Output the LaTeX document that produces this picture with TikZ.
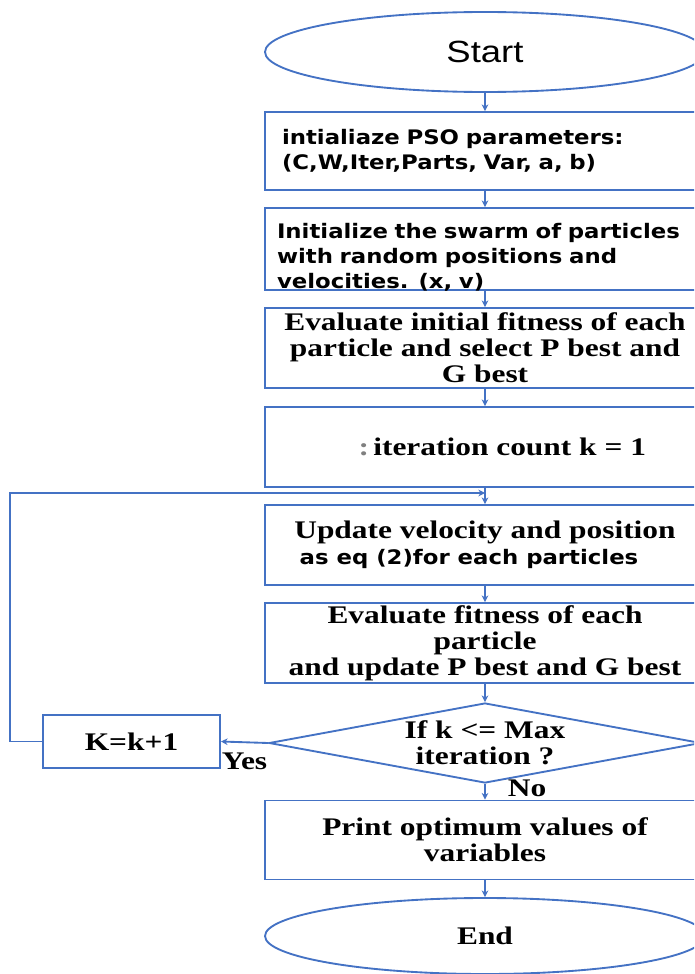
\documentclass[tikz,border=0pt]{standalone}
\usepackage{fontspec}
\setmainfont{Liberation Serif}[FakeStretch=1.24]
\newfontfamily\verdfont{DejaVu Sans}[FakeStretch=1.14]
\newfontfamily\arialfont{Liberation Sans}[FakeStretch=1.19]
\usetikzlibrary{shapes.geometric,arrows.meta}
\definecolor{flowblue}{HTML}{4472C4}
\tikzset{
  flowbox/.style={draw=flowblue, line width=1.4pt, rectangle, minimum width=330pt,
    minimum height=60pt, inner sep=0pt, align=center,
    font=\bfseries\fontsize{19}{19.5}\selectfont},
  sanstext/.style={font=\verdfont\bfseries\fontsize{15}{18.75}\selectfont, align=left, inner sep=0pt},
  terminal/.style={draw=flowblue, line width=1.4pt, ellipse, minimum width=330pt,
    minimum height=60pt, inner sep=0pt},
  decision/.style={draw=flowblue, line width=1.4pt, diamond, aspect=5.4, minimum width=324pt,
    minimum height=60pt, inner sep=0pt, align=center,
    font=\bfseries\fontsize{19}{19.5}\selectfont},
  flowline/.style={draw=flowblue, line width=1.4pt},
  flowarrow/.style={flowline, -{Stealth[length=5pt,width=5pt]}},
  branchlabel/.style={font=\bfseries\fontsize{19}{19.5}\selectfont, inner sep=0pt}
}
\begin{document}
\begin{tikzpicture}[x=0.75pt, y=-0.75pt]
  \useasboundingbox (0,0) rectangle (694,974);
  \clip (0,0) rectangle (694,974);
  \node[terminal, font=\arialfont\fontsize{23}{26}\selectfont] (start) at (485,52) {Start};
  \node[flowbox, sanstext, text width=304.5pt, minimum height=58.5pt] (init) at (485,151)
    {intialiaze PSO parameters:\\(C,W,Iter,Parts, Var, a, b)};
  \node[flowbox, minimum height=61.5pt] (swarm) at (485,249) {};
  \node[sanstext, text width=312pt] (swarmtext) at ([yshift=-6pt]swarm.center)
    {Initialize the swarm of particles\\with random positions and\\velocities. (x, v)};
  \node[flowbox] (evalinit) at (485,348)
    {Evaluate initial fitness of each\\particle and select P best and\\G best};
  \node[flowbox] (count) at (485,447)
    {\hspace*{26pt}\textcolor{gray}{:}\,iteration count k = 1};
  \node[flowbox, align=left] (update) at (485,545)
    {Update velocity and position\\\hspace*{4pt}{\verdfont\bfseries\fontsize{15}{18.75}\selectfont as eq (2)for each particles}};
  \node[flowbox] (evalfit) at (485,643)
    {Evaluate fitness of each\\particle\\and update P best and G best};
  \node[decision] (check) at (485,743) {If k <= Max\\iteration ?};
  \node[flowbox, minimum width=132.75pt, minimum height=39.75pt] (incr) at (131.5,741.5) {K=k+1};
  \node[flowbox, minimum height=59.25pt] (print) at (485,840)
    {Print optimum values of\\variables};
  \node[terminal, minimum height=57pt, font=\bfseries\fontsize{19}{19.5}\selectfont] (finish) at (485,936) {End};
  \coordinate (loop) at (485,493);
  \draw[flowarrow] (start) -- (init);
  \draw[flowarrow] (init) -- (swarm);
  \draw[flowarrow] (swarm) -- (evalinit);
  \draw[flowarrow] (evalinit) -- (count);
  \draw[flowarrow] (count) -- (update);
  \draw[flowarrow] (update) -- (evalfit);
  \draw[flowarrow] (evalfit) -- (check);
  \draw[flowarrow] (check.west) -- node[branchlabel, below=7pt] {Yes} (incr.east);
  \draw[flowarrow] (check.south) -- node[branchlabel, pos=0.3, anchor=west, xshift=16.5pt] {No} (print.north);
  \draw[flowarrow] (incr.west) -- ++(-32,0) |- (loop);
  \draw[flowarrow] (print) -- (finish);
\end{tikzpicture}
\end{document}
